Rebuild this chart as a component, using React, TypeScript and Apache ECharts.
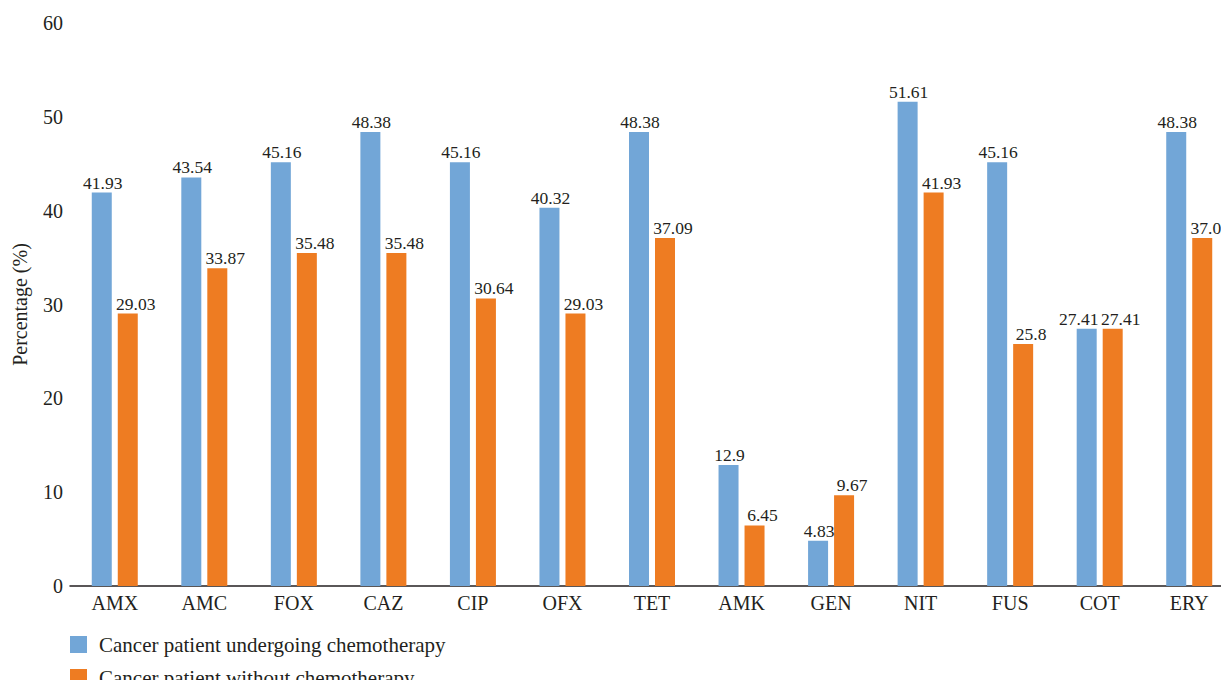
import React, { useEffect, useRef } from "react";
import * as echarts from "echarts";

const categories = ["AMX", "AMC", "FOX", "CAZ", "CIP", "OFX", "TET", "AMK", "GEN", "NIT", "FUS", "COT", "ERY"];
const withChemo = [41.93, 43.54, 45.16, 48.38, 45.16, 40.32, 48.38, 12.9, 4.83, 51.61, 45.16, 27.41, 48.38];
const withoutChemo = [29.03, 33.87, 35.48, 35.48, 30.64, 29.03, 37.09, 6.45, 9.67, 41.93, 25.8, 27.41, 37.09];
const seriesNames = ["Cancer patient undergoing chemotherapy", "Cancer patient without chemotherapy"];

const FONT = "'Liberation Serif', 'Times New Roman', serif";
const INK = "#231f20";

export default function App() {
  const ref = useRef<HTMLDivElement>(null);

  useEffect(() => {
    if (!ref.current) return;
    const chart = echarts.init(ref.current, undefined, { renderer: "svg" });
    const labelStyle = (dx: number) => ({
      show: true,
      position: "top" as const,
      distance: 1,
      offset: [dx, 0],
      fontFamily: FONT,
      fontSize: 17.5,
      color: INK,
    });
    // the two COT labels would collide, so the left one is nudged aside
    const blueData = withChemo.map((v, i) =>
      categories[i] === "COT" ? { value: v, label: { offset: [-8, 0] } } : v
    );
    const legendCommon = {
      orient: "vertical" as const,
      left: 70,
      padding: 0,
      itemWidth: 17,
      itemHeight: 17,
      icon: "rect",
      textStyle: { fontFamily: FONT, fontSize: 21, color: INK, padding: [0, 0, 0, 7] },
    };
    chart.setOption({
      animation: false,
      backgroundColor: "#ffffff",
      textStyle: { fontFamily: FONT },
      grid: { left: 70, top: 23, width: 1164, bottom: 102, containLabel: false, outerBoundsMode: "none" },
      legend: [
        { ...legendCommon, top: 634, data: [seriesNames[0]] },
        { ...legendCommon, top: 667, data: [seriesNames[1]] },
      ],
      xAxis: {
        type: "category",
        data: categories,
        axisLine: { show: true, lineStyle: { color: INK, width: 1.5 } },
        axisTick: { show: false },
        axisLabel: { fontFamily: FONT, fontSize: 20, color: INK, margin: 7 },
      },
      yAxis: {
        type: "value",
        min: 0,
        max: 60,
        interval: 10,
        name: "Percentage (%)",
        nameLocation: "middle",
        nameGap: 40,
        nameTextStyle: { fontFamily: FONT, fontSize: 20, color: INK },
        axisLine: { show: false },
        axisTick: { show: false },
        splitLine: { show: false },
        axisLabel: { fontFamily: FONT, fontSize: 20, color: INK, margin: 7 },
      },
      series: [
        {
          name: seriesNames[0],
          type: "bar",
          data: blueData,
          barWidth: 20,
          barGap: "30%",
          itemStyle: { color: "#72a6d7" },
          label: labelStyle(1),
        },
        {
          name: seriesNames[1],
          type: "bar",
          data: withoutChemo,
          barWidth: 20,
          itemStyle: { color: "#ee7c22" },
          label: labelStyle(8),
        },
      ],
    });
    return () => chart.dispose();
  }, []);

  return <div ref={ref} style={{ width: 1229, height: 688, margin: -8 }} />;
}
